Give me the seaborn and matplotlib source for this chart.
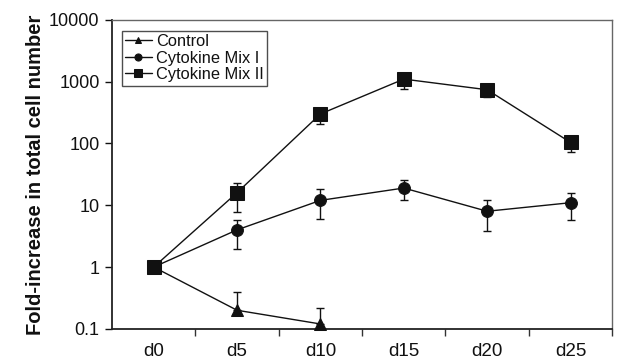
import numpy as np
import pandas as pd
import matplotlib
matplotlib.use("Agg")
import matplotlib.pyplot as plt
import seaborn as sns
from matplotlib.ticker import FixedLocator, NullFormatter

days = ["d0", "d5", "d10", "d15", "d20", "d25"]

control = [1, 0.2, 0.12]
control_lo = [1, 0.2, 0.12]
control_hi = [1, 0.4, 0.22]

mix1 = [1, 4.0, 12, 19, 8, 11]
mix1_lo = [1, 1.95, 5.9, 12, 3.8, 5.7]
mix1_hi = [1, 5.8, 18, 26, 12, 16]

mix2 = [1, 16, 300, 1100, 740, 104]
mix2_lo = [1, 7.7, 210, 750, 575, 74]
mix2_hi = [1, 23, 380, 1300, 850, 120]

series = {
    "Control": (control, control_lo, control_hi, "^"),
    "Cytokine Mix I": (mix1, mix1_lo, mix1_hi, "o"),
    "Cytokine Mix II": (mix2, mix2_lo, mix2_hi, "s"),
}

rows = []
for name, (vals, lo, hi, _) in series.items():
    for i, v in enumerate(vals):
        rows.append({"pos": i, "value": v, "group": name})
df = pd.DataFrame(rows)

sns.set_theme(style="white")
plt.rcParams["font.family"] = ["Liberation Sans", "DejaVu Sans"]

fig = plt.figure(figsize=(6.19, 3.61), dpi=100)
ax = fig.add_axes([0.181, 0.089, 0.808, 0.856])

# error bars first so the markers sit on top
for name, (vals, lo, hi, _) in series.items():
    x = np.arange(len(vals))
    v = np.array(vals, float)
    yerr = np.vstack([v - np.array(lo, float), np.array(hi, float) - v])
    ax.errorbar(x, v, yerr=yerr, fmt="none", ecolor="#111111",
                elinewidth=1.0, capsize=3, capthick=1.0, zorder=2)

sizes = {"Control": 8, "Cytokine Mix I": 8.5, "Cytokine Mix II": 9.5}
for name, (vals, lo, hi, mk) in series.items():
    sub = df[df["group"] == name]
    sns.lineplot(data=sub, x="pos", y="value", ax=ax, color="#111111",
                 marker=mk, markersize=sizes[name], markeredgecolor="#111111",
                 linewidth=1.0, label=name, zorder=3, clip_on=False)

ax.set_yscale("log")
ax.set_ylim(0.1, 10000)
ax.set_xlim(-0.5, 5.5)
ax.set_yticks([0.1, 1, 10, 100, 1000, 10000])
ax.set_yticklabels(["0.1", "1", "10", "100", "1000", "10000"])
ax.yaxis.set_minor_locator(FixedLocator([]))
ax.set_xticks(range(len(days)))
ax.set_xticklabels(days)
ax.xaxis.set_minor_locator(FixedLocator(np.arange(0.5, 6.0, 1.0)))
ax.xaxis.set_minor_formatter(NullFormatter())

ax.tick_params(axis="x", which="major", length=0, pad=10, labelsize=13.5, colors="#111111")
ax.tick_params(axis="x", which="minor", bottom=True, length=5, width=1.0, direction="out", color="#333333")
ax.tick_params(axis="y", which="major", left=True, length=5, width=1.0, direction="out",
               labelsize=13, colors="#111111", pad=4)

ax.set_xlabel("")
ax.set_ylabel("Fold-increase in total cell number", fontsize=14.5, fontweight="bold",
              color="#111111", labelpad=3)

for side in ["left", "bottom"]:
    ax.spines[side].set_color("#222222")
    ax.spines[side].set_linewidth(1.3)
for side in ["top", "right"]:
    ax.spines[side].set_color("#666666")
    ax.spines[side].set_linewidth(1.0)

leg = ax.legend(loc="upper left", bbox_to_anchor=(0.02, 0.965), fontsize=11.8,
                frameon=True, fancybox=False, handlelength=1.6, handletextpad=0.3,
                borderpad=0.2, labelspacing=0.1, markerscale=0.6, borderaxespad=0)
leg.get_frame().set_edgecolor("#222222")
leg.get_frame().set_linewidth(1.0)
for t in leg.get_texts():
    t.set_color("#111111")

fig.savefig("out.png", dpi=100, facecolor="white")
